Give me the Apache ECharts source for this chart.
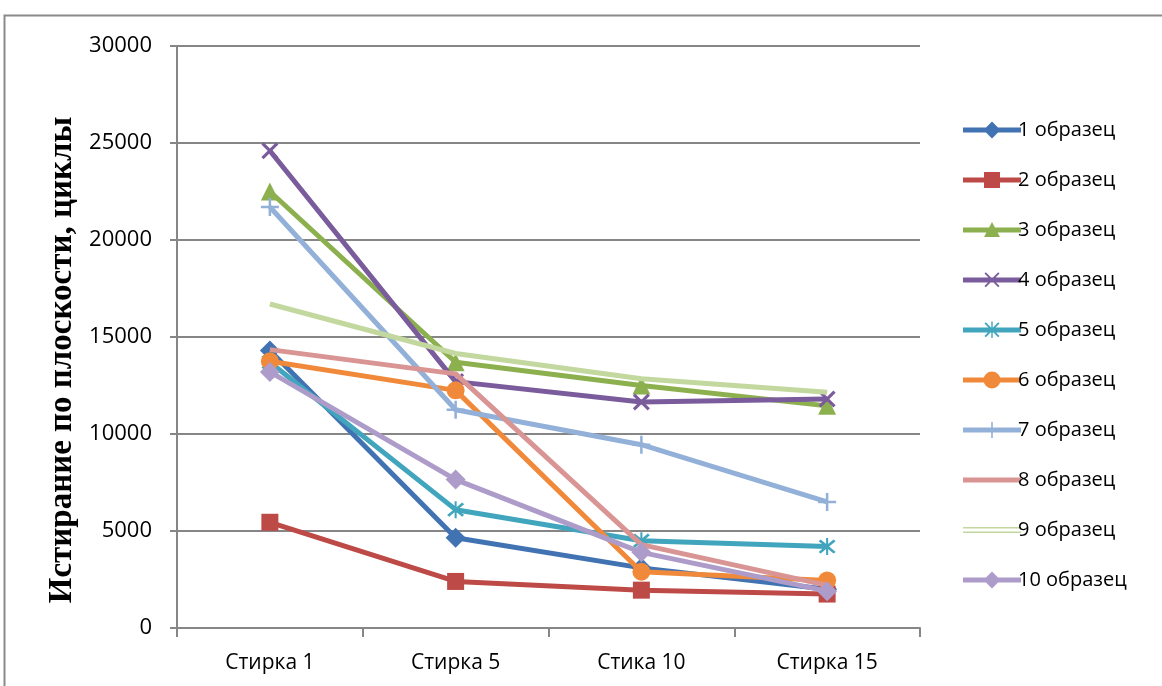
<!DOCTYPE html>
<html>
<head>
<meta charset="utf-8">
<script src="https://cdn.jsdelivr.net/npm/echarts@6/dist/echarts.min.js"></script>
<style>
  html, body { margin: 0; padding: 0; background: #fff; }
  #chart { width: 1162px; height: 686px; }
</style>
</head>
<body>
<div id="chart"></div>
<script>
// Wash stages along the x axis
const categories = ['Стирка 1', 'Стирка 5', 'Стика 10', 'Стирка 15'];

// Abrasion resistance (cycles) for each sample
const sample1  = [14300, 4650, 3100, 2000];
const sample2  = [5450, 2400, 1950, 1750];
const sample3  = [22500, 13700, 12500, 11450];
const sample4  = [24600, 12700, 11650, 11800];
const sample5  = [13700, 6100, 4500, 4200];
const sample6  = [13750, 12250, 2900, 2450];
const sample7  = [21700, 11250, 9450, 6500];
const sample8  = [14350, 13100, 4300, 2200];
const sample9  = [16700, 14150, 12850, 12150];
const sample10 = [13200, 7650, 3900, 1900];

const seriesNames = ['1 образец', '2 образец', '3 образец', '4 образец', '5 образец',
                     '6 образец', '7 образец', '8 образец', '9 образец', '10 образец'];

// Y axis tick values
const yTicks = [0, 5000, 10000, 15000, 20000, 25000, 30000];

const AXIS_TITLE = 'Истирание по плоскости, циклы';

// Marker shapes (filled paths)
const X_MARK = 'path://M0,1.3 L1.3,0 L5,3.7 L8.7,0 L10,1.3 L6.3,5 L10,8.7 L8.7,10 L5,6.3 L1.3,10 L0,8.7 L3.7,5 Z';
const STAR_MARK = 'path://M0,1.2 L1.2,0 L5,3.8 L8.8,0 L10,1.2 L6.2,5 L10,8.8 L8.8,10 L5,6.2 L1.2,10 L0,8.8 L3.8,5 Z M4.4,-1 H5.6 V11 H4.4 Z';
const PLUS_MARK = 'path://M4.3,0 H5.7 V4.3 H10 V5.7 H5.7 V10 H4.3 V5.7 H0 V4.3 H4.3 Z';

// Legend icons: a 58x18 box holding the line stroke with the marker in its centre.
// Tiny corner dots pin the bounding box so every icon scales the same way.
const PIN = 'M0,0 L0.05,0 L0,0.05 Z M58,18 L57.95,18 L58,17.95 Z ';
const BAR = 'M0,6.5 H58 V11.5 H0 Z ';
const legendIcons = [
  'path://' + PIN + BAR + 'M29,0.5 L37.5,9 L29,17.5 L20.5,9 Z',
  'path://' + PIN + BAR + 'M21,1 H37 V17 H21 Z',
  'path://' + PIN + BAR + 'M29,1 L37,16 L21,16 Z',
  'path://' + PIN + BAR + 'M21.5,2.5 L22.8,1.2 L29,7.4 L35.2,1.2 L36.5,2.5 L30.3,8.7 L36.5,14.9 L35.2,16.2 L29,10 L22.8,16.2 L21.5,14.9 L27.7,8.7 Z',
  'path://' + PIN + BAR + 'M21.5,2.5 L22.8,1.2 L29,7.4 L35.2,1.2 L36.5,2.5 L30.3,8.7 L36.5,14.9 L35.2,16.2 L29,10 L22.8,16.2 L21.5,14.9 L27.7,8.7 Z M28.3,0.5 H29.7 V17 H28.3 Z',
  'path://' + PIN + BAR + 'M29,0.5 A8.5,8.5 0 1 1 28.99,0.5 Z',
  'path://' + PIN + BAR + 'M28.2,1 H29.8 V17 H28.2 Z',
  'path://' + PIN + BAR,
  'path://' + PIN + 'M0,6 H58 V7.5 H0 Z M0,10.5 H58 V12 H0 Z',
  'path://' + PIN + BAR + 'M29,0.5 L37.5,9 L29,17.5 L20.5,9 Z'
];

const styles = [
  { data: sample1,  color: '#4173b3', symbol: 'diamond', size: 20 },
  { data: sample2,  color: '#bd4a47', symbol: 'rect', size: 17 },
  { data: sample3,  color: '#8db04f', symbol: 'triangle', size: 18 },
  { data: sample4,  color: '#7a5b9c', symbol: X_MARK, size: 17 },
  { data: sample5,  color: '#40a5bd', symbol: STAR_MARK, size: 17 },
  { data: sample6,  color: '#f08a3a', symbol: 'circle', size: 18 },
  { data: sample7,  color: '#93b1d8', symbol: PLUS_MARK, size: 18 },
  { data: sample8,  color: '#d99594', symbol: 'none', size: 0 },
  { data: sample9,  color: '#c2d89e', symbol: 'none', size: 0 },
  { data: sample10, color: '#ad9cc9', symbol: 'diamond', size: 20 }
];

const chart = echarts.init(document.getElementById('chart'), null, { renderer: 'canvas' });

const option = {
  animation: false,
  backgroundColor: '#ffffff',
  graphic: [{
    type: 'rect',
    shape: { x: 4.5, y: 15.5, width: 1200, height: 700 },
    style: { fill: 'none', stroke: '#8a8a8a', lineWidth: 2 },
    silent: true
  }, {
    type: 'text',
    x: 62,
    y: 360,
    rotation: Math.PI / 2,
    style: {
      text: AXIS_TITLE,
      fill: '#000',
      font: 'bold 33px "Liberation Serif"',
      align: 'center',
      verticalAlign: 'middle'
    },
    silent: true
  }],
  grid: { left: 177, right: 242, top: 46, bottom: 58 },
  legend: {
    orient: 'vertical',
    left: 958,
    top: 115,
    itemWidth: 58,
    itemHeight: 18,
    itemGap: 30,
    textStyle: { fontFamily: 'Open Sans', fontSize: 20, color: '#000', padding: [0, 0, 0, -8] },
    data: seriesNames.map((n, i) => ({ name: n, icon: legendIcons[i], itemStyle: { color: styles[i].color } }))
  },
  xAxis: {
    type: 'category',
    data: categories,
    boundaryGap: true,
    axisLine: { lineStyle: { color: '#868686', width: 2 } },
    axisTick: { show: true, interval: 0, length: 9, lineStyle: { color: '#868686', width: 2 } },
    axisLabel: { margin: 25, fontFamily: 'Open Sans', fontSize: 21, color: '#000' }
  },
  yAxis: {
    type: 'value',
    min: yTicks[0],
    max: yTicks[yTicks.length - 1],
    interval: 5000,
    axisLine: { show: true, lineStyle: { color: '#868686', width: 2 } },
    axisTick: { show: true, length: 7, lineStyle: { color: '#868686', width: 2 } },
    axisLabel: { margin: 25, fontFamily: 'Open Sans', fontSize: 22, color: '#000', formatter: v => String(v) },
    splitLine: { lineStyle: { color: '#868686', width: 2 } }
  },
  series: styles.map((s, i) => ({
    name: seriesNames[i],
    type: 'line',
    data: s.data,
    symbol: s.symbol,
    symbolSize: s.size,
    showSymbol: s.symbol !== 'none',
    z: 2 + i,
    lineStyle: { color: s.color, width: 5 },
    itemStyle: { color: s.color, borderWidth: 0 }
  }))
};

chart.setOption(option);
</script>
</body>
</html>
